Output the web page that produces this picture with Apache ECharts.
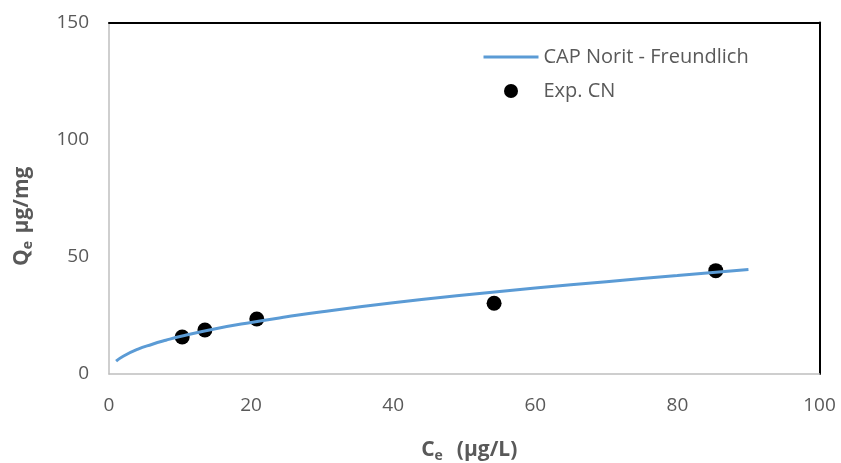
<!DOCTYPE html>
<html><head><meta charset="utf-8">
<script src="https://cdn.jsdelivr.net/npm/echarts@6/dist/echarts.min.js"></script>
<style>html,body{margin:0;padding:0;background:#fff}#c{width:841px;height:463px}</style>
</head><body><div id="c"></div>
<script>
const curveX = [1, 2, 4, 6, 8, 10, 15, 20, 25, 30, 40, 50, 60, 70, 80, 90];
const curveY = [5.5, 7.6, 10.5, 12.6, 14.4, 16.0, 19.3, 22.0, 24.4, 26.6, 30.4, 33.7, 36.7, 39.4, 42.0, 44.6];
const expX = [10.3, 13.5, 20.8, 54.2, 85.4];
const expY = [15.8, 18.8, 23.5, 30.2, 44.1];
const xTicks = [0, 20, 40, 60, 80, 100];
const yTicks = [0, 50, 100, 150];

const chart = echarts.init(document.getElementById('c'));
const font = 'Open Sans, Liberation Sans, sans-serif';
chart.setOption({
  animation: false,
  grid: {left: 109, right: 21.5, top: 22.5, bottom: 89, containLabel: false, outerBoundsMode: 'none'},
  legend: {
    orient: 'vertical', left: 482, top: 47, itemGap: 14, padding: 0,
    itemWidth: 55, itemHeight: 14,
    textStyle: {fontFamily: font, fontSize: 20, color: '#595959'},
    data: [{name: 'CAP Norit - Freundlich', lineStyle: {width: 3}}, {name: 'Exp. CN', icon: 'circle'}]
  },
  xAxis: [{
    type: 'value', min: xTicks[0], max: xTicks[xTicks.length-1], interval: 20,
    axisLine: {onZero: false, lineStyle: {color: '#bfbfbf', width: 1.5}},
    axisTick: {show: false}, splitLine: {show: false},
    axisLabel: {fontFamily: font, fontSize: 19, color: '#595959', margin: 22},
    name: '{a|C}{b|e}{a|  (µg/L)}', nameLocation: 'middle', nameGap: 63,
    nameTextStyle: {padding: [0, 0, 0, 10], rich: {
      a: {fontFamily: font, fontSize: 21, fontWeight: 'bold', color: '#595959'},
      b: {fontFamily: font, fontSize: 14, fontWeight: 'bold', color: '#595959', padding: [12, 3, 0, 0]}
    }}
  }, {
    type: 'value', position: 'top', min: 0, max: 100,
    axisLine: {show: true, onZero: false, lineStyle: {color: '#000', width: 2}},
    axisTick: {show: false}, axisLabel: {show: false}, splitLine: {show: false}
  }],
  yAxis: [{
    type: 'value', min: yTicks[0], max: yTicks[yTicks.length-1], interval: 50,
    axisLine: {show: true, onZero: false, lineStyle: {color: '#bfbfbf', width: 1.5}},
    axisTick: {show: false}, splitLine: {show: false},
    axisLabel: {fontFamily: font, fontSize: 19, color: '#595959', margin: 20},
    name: '{a|Q}{b|e}{a| µg/mg}', nameLocation: 'middle', nameGap: 74,
    nameTextStyle: {padding: [0, 36, 0, 0], rich: {
      a: {fontFamily: font, fontSize: 21, fontWeight: 'bold', color: '#595959'},
      b: {fontFamily: font, fontSize: 14, fontWeight: 'bold', color: '#595959', padding: [12, 2, 0, 0]}
    }}
  }, {
    type: 'value', position: 'right', min: 0, max: 150,
    axisLine: {show: true, onZero: false, lineStyle: {color: '#000', width: 2}},
    axisTick: {show: false}, axisLabel: {show: false}, splitLine: {show: false}
  }],
  series: [{
    name: 'CAP Norit - Freundlich', type: 'line', smooth: true, symbol: 'none',
    lineStyle: {color: '#5B9BD5', width: 3, opacity: 1}, itemStyle: {color: '#5B9BD5', opacity: 0},
    data: curveX.map((x, i) => [x, curveY[i]])
  }, {
    name: 'Exp. CN', type: 'scatter', symbolSize: 15,
    itemStyle: {color: '#000', opacity: 1},
    data: expX.map((x, i) => [x, expY[i]])
  }]
});
</script></body></html>
